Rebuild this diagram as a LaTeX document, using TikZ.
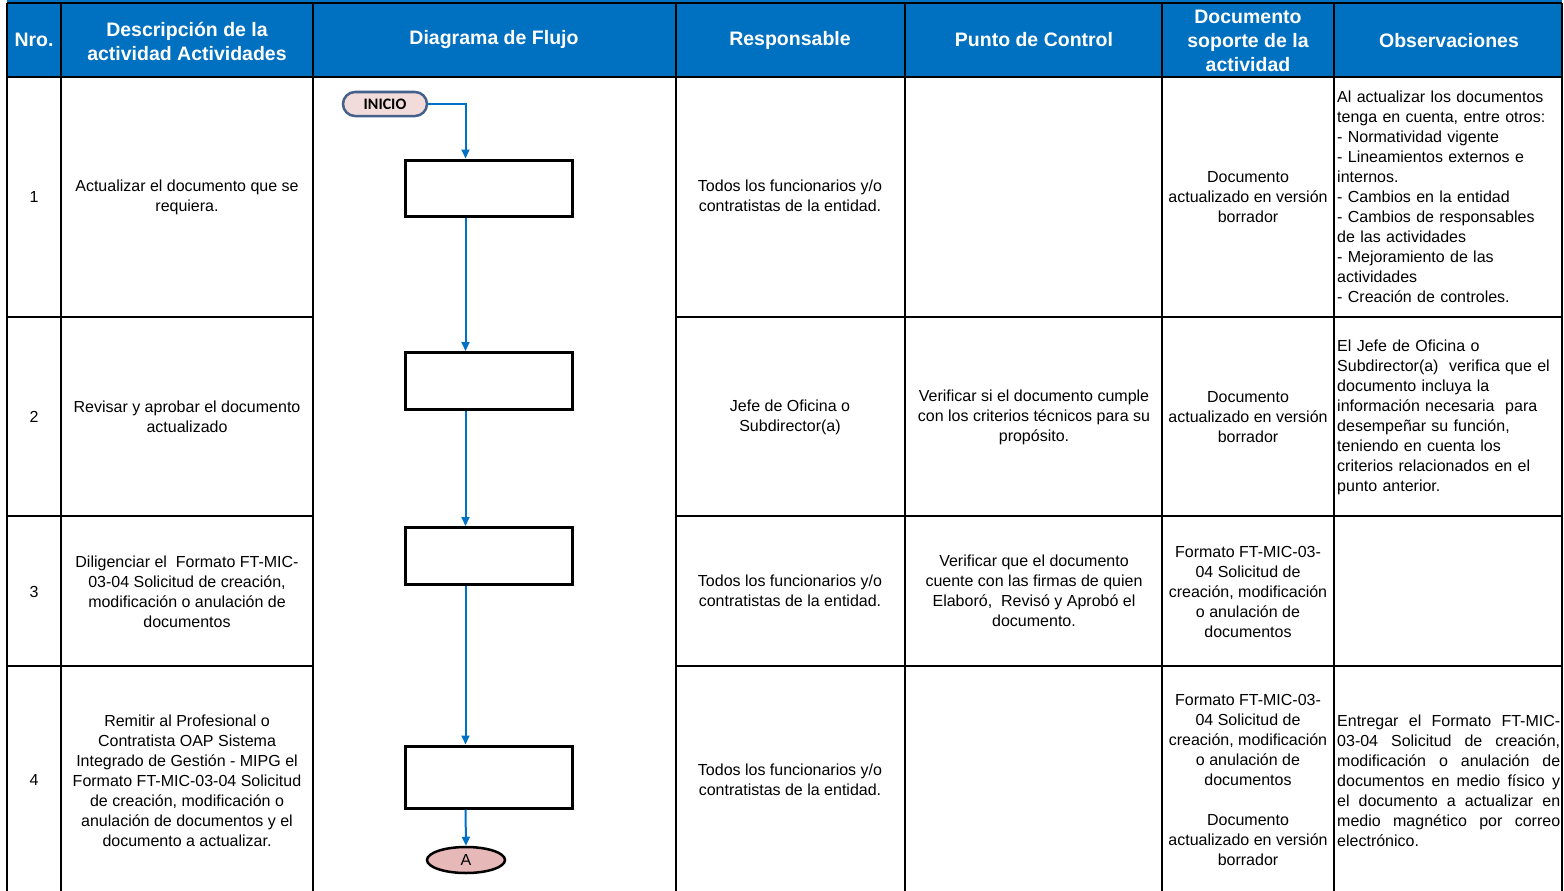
\documentclass[tikz,border=0pt]{standalone}
\usepackage{fontspec}
\setmainfont{Liberation Sans}
\newfontfamily\startfont{Carlito}
\usetikzlibrary{shapes.geometric,arrows.meta}
\definecolor{headblue}{RGB}{0,112,192}
\definecolor{flowblue}{RGB}{0,114,198}
\definecolor{iniciofill}{RGB}{242,220,219}
\definecolor{inicioline}{RGB}{68,96,140}
\definecolor{connfill}{RGB}{230,184,183}

\begin{document}
\begin{tikzpicture}[x=1pt, y=-1pt,
    gridline/.style={line width=2.4pt},
    head/.style={font=\fontsize{19.5}{24}\selectfont\bfseries, text=white, align=center},
    cell/.style={font=\fontsize{16}{20}\selectfont, align=center},
    obs/.style={font=\fontsize{16}{20}\selectfont, align=left, anchor=west, text width=226pt, inner sep=1pt},
    procbox/.style={draw, line width=3pt, minimum width=167pt, minimum height=57pt},
    flow/.style={draw=flowblue, line width=2pt, -{Triangle[length=9pt,width=8pt]}}]
    \useasboundingbox (0,0) rectangle (1564,891);

    % Header band
    \fill[headblue] (7,0) rectangle (1562,77);
    \draw[gridline] (7,3) -- (1562,3);
    \draw[gridline] (7,77) -- (1562,77);
    \foreach \x in {7,61,313,676,905,1162,1334,1562}
        \draw[gridline] (\x,3) -- (\x,891);
    \foreach \y in {317,516,666} {
        \draw[gridline] (7,\y) -- (313,\y);
        \draw[gridline] (676,\y) -- (1562,\y);
    }

    % Header texts
    \node[head] (hnro) at (34,40) {Nro.};
    \node[head] (hdesc) at (187,41) {Descripción de la\\actividad Actividades};
    \node[head] (hflow) at (494,40) {Diagrama de Flujo};
    \node[head] (hresp) at (790,40) {Responsable};
    \node[head] (hpunto) at (1034,40) {Punto de Control};
    \node[head] (hdoc) at (1248,41) {Documento\\soporte de la\\actividad};
    \node[head] (hobs) at (1449,41) {Observaciones};

    % Row 1
    \node[cell] (nro1) at (34,197) {1};
    \node[cell] (desc1) at (187,197) {Actualizar el documento que se\\requiera.};
    \node[cell] (resp1) at (790,196) {Todos los funcionarios y/o\\contratistas de la entidad.};
    \node[cell] (doc1) at (1248,197) {Documento\\actualizado en versión\\borrador};
    \node[obs] (obs1) at (1336,197) {Al actualizar los documentos\\tenga en cuenta, entre otros:\\- Normatividad vigente\\- Lineamientos externos e\\internos.\\- Cambios en la entidad\\- Cambios de responsables\\de las actividades\\- Mejoramiento de las\\actividades\\- Creación de controles.};

    % Row 2
    \node[cell] (nro2) at (34,417) {2};
    \node[cell] (desc2) at (187,417) {Revisar y aprobar el documento\\actualizado};
    \node[cell] (resp2) at (790,417) {Jefe de Oficina o\\Subdirector(a)};
    \node[cell] (punto2) at (1034,417) {Verificar si el documento cumple\\con los criterios técnicos para su\\propósito.};
    \node[cell] (doc2) at (1248,417) {Documento\\actualizado en versión\\borrador};
    \node[obs] (obs2) at (1336,417) {El Jefe de Oficina o\\Subdirector(a)\ \ verifica que el\\documento incluya la\\información necesaria\ \ para\\desempeñar su función,\\teniendo en cuenta los\\criterios relacionados en el\\punto anterior.};

    % Row 3
    \node[cell] (nro3) at (34,592) {3};
    \node[cell] (desc3) at (187,592) {Diligenciar el\ \ Formato FT-MIC-\\03-04 Solicitud de creación,\\modificación o anulación de\\documentos};
    \node[cell] (resp3) at (790,591) {Todos los funcionarios y/o\\contratistas de la entidad.};
    \node[cell] (punto3) at (1034,591) {Verificar que el documento\\cuente con las firmas de quien\\Elaboró,\ \ Revisó y Aprobó el\\documento.};
    \node[cell] (doc3) at (1248,592) {Formato FT-MIC-03-\\04 Solicitud de\\creación, modificación\\o anulación de\\documentos};

    % Row 4
    \node[cell] (nro4) at (34,780) {4};
    \node[cell] (desc4) at (187,781) {Remitir al Profesional o\\Contratista OAP Sistema\\Integrado de Gestión - MIPG el\\Formato FT-MIC-03-04 Solicitud\\de creación, modificación o\\anulación de documentos y el\\documento a actualizar.};
    \node[cell] (resp4) at (790,780) {Todos los funcionarios y/o\\contratistas de la entidad.};
    \node[cell] (doc4) at (1248,780) {Formato FT-MIC-03-\\04 Solicitud de\\creación, modificación\\o anulación de\\documentos\\[20pt]Documento\\actualizado en versión\\borrador};
    \node[obs, text width=223pt, align=justify] (obs4) at (1336,781) {Entregar el Formato FT-MIC-\linebreak 03-04 Solicitud de creación,\linebreak modificación o anulación de\linebreak documentos en medio físico y\linebreak el documento a actualizar en\linebreak medio magnético por correo\linebreak electrónico.};

    % Flow diagram
    \node[draw=inicioline, fill=iniciofill, line width=2.5pt, rounded corners=12pt,
          minimum width=84pt, minimum height=24pt, font=\startfont\bfseries\fontsize{16}{18}\selectfont] (inicio) at (385,104) {INICIO};
    \node[procbox, minimum height=56pt] (box1) at (488.5,188) {};
    \node[procbox] (box2) at (488.5,381) {};
    \node[procbox] (box3) at (488.5,556) {};
    \node[procbox, minimum height=62pt] (box4) at (488.5,777) {};
    \node[ellipse, draw, fill=connfill, line width=2.5pt, minimum width=78pt, minimum height=26pt,
          inner sep=0pt, font=\fontsize{16}{18}\selectfont] (conA) at (466,860) {A};

    \draw[flow] (inicio.east) -| ([xshift=-23pt]box1.north);
    \draw[flow] ([xshift=-23pt]box1.south) -- ([xshift=-23pt]box2.north);
    \draw[flow] ([xshift=-23pt]box2.south) -- ([xshift=-23pt]box3.north);
    \draw[flow] ([xshift=-23pt]box3.south) -- ([xshift=-23pt]box4.north);
    \draw[flow] ([xshift=-23pt]box4.south) -- (conA.north);
\end{tikzpicture}
\end{document}
